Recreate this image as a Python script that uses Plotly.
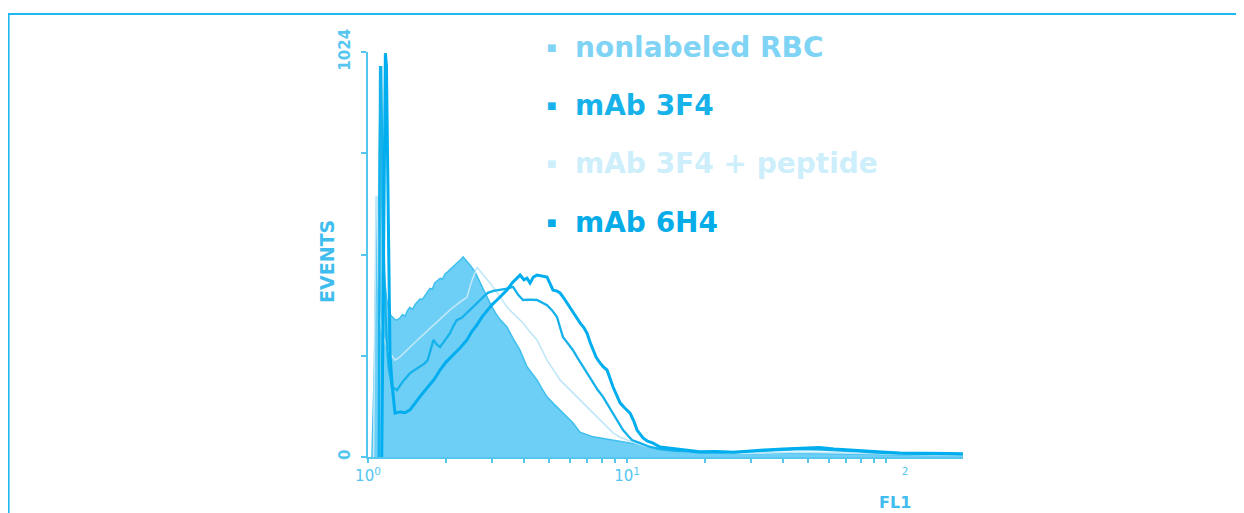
import plotly.graph_objects as go

# ---------------- data (FL1 intensity, event counts) ----------------
fl1_nonlabeled = [1.036, 1.06, 1.08, 1.095, 1.105, 1.113, 1.125, 1.14, 1.16, 1.18,
                  1.20, 1.22, 1.25, 1.27, 1.294, 1.33, 1.36, 1.39, 1.42, 1.45,
                  1.49, 1.52, 1.55, 1.59, 1.62, 1.66, 1.70, 1.735, 1.77, 1.81,
                  1.85, 1.90, 1.94, 1.98, 2.03, 2.07, 2.12, 2.17, 2.22, 2.27,
                  2.30, 2.33, 2.37, 2.41, 2.48, 2.59, 2.70, 2.83, 2.96, 3.10,
                  3.23, 3.44, 3.63, 3.86, 4.11, 4.30, 4.49, 4.70, 4.91, 5.2,
                  5.51, 5.85, 6.19, 6.58, 7.0, 7.39, 8.1, 8.83, 9.6, 10.55,
                  11.5, 12.6, 14.0, 16.0, 19.1, 24, 30, 38, 47, 60,
                  73, 90, 113, 140, 170, 198]
events_nonlabeled = [0, 250, 650, 560, 780, 910, 700, 540, 450, 400,
                     375, 360, 352, 348, 346, 352, 360, 356, 370, 378,
                     374, 386, 392, 400, 398, 410, 418, 426, 424, 440,
                     446, 452, 450, 462, 468, 473, 478, 486, 492, 498,
                     502, 506, 500, 495, 485, 468, 445, 415, 389, 365,
                     348, 329, 300, 270, 228, 212, 195, 172, 152, 135,
                     119, 102, 86, 63, 56, 51, 47, 43, 39, 35,
                     30, 23, 19, 15, 10, 9, 8, 10, 9, 8,
                     7, 7, 6, 6, 5, 5]

fl1_3f4 = [1.10, 1.108, 1.113, 1.125, 1.14, 1.16, 1.18, 1.20, 1.22, 1.238,
           1.294, 1.36, 1.453, 1.52, 1.588, 1.65, 1.70, 1.75, 1.79, 1.84,
           1.897, 1.98, 2.073, 2.13, 2.20, 2.30, 2.411, 2.52, 2.635, 2.76,
           2.90, 3.05, 3.234, 3.40, 3.63, 3.80, 3.967, 4.2, 4.492, 4.70,
           4.910, 5.15, 5.367, 5.50, 5.660, 5.90, 6.186, 6.45, 6.763, 7.05,
           7.391, 7.70, 8.078, 8.45, 8.830, 9.25, 9.652, 10.05, 10.45, 11.23,
           12.2, 13.4, 15, 17, 19.1, 23, 28, 33, 40, 47,
           56, 66, 78, 92, 110, 130, 155, 180, 198]
events_3f4 = [0, 700, 986, 986, 640, 420, 300, 230, 195, 177,
              169, 190, 212, 220, 228, 236, 245, 275, 296, 285,
              278, 295, 313, 330, 346, 352, 364, 376, 389, 402,
              415, 420, 422, 425, 430, 410, 397, 398, 397, 390,
              384, 370, 354, 330, 303, 288, 270, 250, 228, 208,
              187, 170, 152, 131, 111, 88, 68, 55, 43, 35,
              26, 20, 16, 14, 12, 11, 13, 16, 18, 20,
              19, 17, 14, 11, 9, 8, 8, 7, 7]

fl1_3f4_peptide = [1.05, 1.068, 1.074, 1.085, 1.095, 1.11, 1.13, 1.15, 1.18, 1.22,
                   1.271, 1.329, 1.40, 1.52, 1.65, 1.80, 1.95, 2.10, 2.25, 2.41,
                   2.50, 2.59, 2.635, 2.75, 2.958, 3.2, 3.441, 3.70, 3.967, 4.2,
                   4.492, 4.70, 4.91, 5.2, 5.512, 5.85, 6.186, 6.6, 7.008, 7.4,
                   7.866, 8.3, 8.83, 9.4, 10.0, 10.8, 11.7, 13, 15, 18,
                   22, 28, 35, 45, 58, 75, 95, 120, 150, 198]
events_3f4_peptide = [0, 500, 657, 657, 450, 360, 320, 300, 280, 262,
                      245, 253, 268, 290, 312, 335, 357, 375, 390, 404,
                      440, 470, 480, 465, 440, 410, 379, 358, 339, 318,
                      296, 270, 245, 220, 195, 178, 162, 144, 126, 110,
                      94, 78, 61, 50, 43, 35, 28, 22, 16, 12,
                      10, 9, 10, 12, 11, 9, 8, 7, 6, 5]

fl1_6h4 = [1.13, 1.15, 1.16, 1.167, 1.178, 1.19, 1.20, 1.216, 1.24, 1.271,
           1.33, 1.39, 1.453, 1.50, 1.55, 1.62, 1.70, 1.80, 1.897, 2.0,
           2.13, 2.27, 2.41, 2.52, 2.635, 2.76, 2.90, 3.02, 3.148, 3.30,
           3.441, 3.60, 3.75, 3.863, 4.0, 4.11, 4.222, 4.35, 4.492, 4.70,
           4.910, 5.05, 5.179, 5.35, 5.512, 5.70, 5.865, 6.02, 6.186, 6.40,
           6.584, 6.80, 7.008, 7.20, 7.391, 7.60, 7.866, 8.10, 8.371, 8.60,
           8.830, 9.10, 9.397, 9.80, 10.27, 10.60, 10.93, 11.23, 11.53, 12.0,
           12.60, 13.41, 14.5, 16.0, 17.5, 19.1, 22, 26, 30, 34,
           40, 47, 55, 63, 73, 85, 100, 113, 130, 150,
           175, 198]
events_6h4 = [0, 600, 1021, 1021, 990, 700, 480, 260, 180, 111,
              114, 112, 119, 132, 144, 160, 177, 196, 220, 240,
              258, 276, 296, 318, 334, 355, 372, 386, 397, 410,
              422, 440, 452, 460, 448, 452, 440, 455, 460, 458,
              455, 438, 422, 420, 415, 402, 389, 378, 364, 352,
              339, 328, 313, 290, 270, 252, 238, 228, 220, 196,
              177, 158, 137, 124, 111, 92, 68, 58, 48, 40,
              35, 25, 22, 18, 16, 13, 14, 12, 15, 18,
              20, 22, 24, 20, 18, 15, 12, 10, 10, 9,
              9, 8]

legend_labels = ["nonlabeled RBC", "mAb 3F4", "mAb 3F4 + peptide", "mAb 6H4"]
legend_colors = ["#7fd4f5", "#17b2ea", "#cdeefb", "#05ace8"]

x_tickvals = [1, 2, 3, 4, 5, 6, 7, 8, 9, 10, 20, 30, 40, 50, 60, 70, 80, 90, 100]
x_ticktext = ["10<sup>0</sup>"] + [" "] * 8 + ["10<sup>1</sup>"] + [" "] * 8 + \
             ["<span style='color:white'>1000</span><sup>2</sup>"]
y_tickvals = [0, 256, 512, 768, 1024]
y_ticktext = ["<b>0</b>", " ", " ", " ", "<b>1024</b>"]

assert len(fl1_nonlabeled) == len(events_nonlabeled)
assert len(fl1_3f4) == len(events_3f4)
assert len(fl1_3f4_peptide) == len(events_3f4_peptide)
assert len(fl1_6h4) == len(events_6h4)

AXIS = "#55c6f0"

fig = go.Figure()
fig.add_trace(go.Scatter(x=fl1_nonlabeled, y=events_nonlabeled, mode="lines",
                         fill="tozeroy", fillcolor="#6dcff6",
                         line=dict(color="#3fbfee", width=1.5),
                         name=legend_labels[0], showlegend=False))
fig.add_trace(go.Scatter(x=fl1_3f4_peptide, y=events_3f4_peptide, mode="lines",
                         line=dict(color="#bfe7f8", width=1.6),
                         name=legend_labels[2], showlegend=False))
fig.add_trace(go.Scatter(x=fl1_3f4, y=events_3f4, mode="lines",
                         line=dict(color="#14b1ea", width=2.3),
                         name=legend_labels[1], showlegend=False))
fig.add_trace(go.Scatter(x=fl1_6h4, y=events_6h4, mode="lines",
                         line=dict(color="#00adee", width=3),
                         name=legend_labels[3], showlegend=False))

fig.update_xaxes(type="log", range=[0, 2.297], showgrid=False, zeroline=False,
                 showline=True, linecolor=AXIS, linewidth=2,
                 ticks="outside", ticklen=4, tickwidth=1.5, tickcolor=AXIS,
                 tickvals=x_tickvals, ticktext=x_ticktext, tickangle=0,
                 tickfont=dict(family="DejaVu Sans", size=15, color=AXIS))
fig.update_yaxes(range=[0, 1024], showgrid=False, zeroline=False,
                 showline=True, linecolor=AXIS, linewidth=2,
                 ticks="outside", ticklen=5, tickwidth=1.5, tickcolor=AXIS,
                 tickvals=y_tickvals, ticktext=y_ticktext, tickangle=-90,
                 ticklabelstandoff=5,
                 tickfont=dict(family="DejaVu Sans", size=15, color=AXIS))

annotations = []
row_y = [1.012, 0.867, 0.7235, 0.578]
for lab, col, yy in zip(legend_labels, legend_colors, row_y):
    annotations.append(dict(xref="paper", yref="paper", x=0.3445, y=yy,
                            xanchor="left", yanchor="middle", showarrow=False,
                            text="<b>" + lab + "</b>",
                            font=dict(family="DejaVu Sans", size=28, color=col)))
    annotations.append(dict(xref="paper", yref="paper", x=0.309, y=yy,
                            xanchor="center", yanchor="middle", showarrow=False,
                            text="■", font=dict(family="DejaVu Sans", size=10, color=col)))
annotations.append(dict(xref="paper", yref="paper", x=-0.069, y=0.484,
                        xanchor="center", yanchor="middle", showarrow=False,
                        textangle=-90, text="<b>EVENTS</b>",
                        font=dict(family="DejaVu Sans", size=19, color="#3fbdee")))
annotations.append(dict(xref="paper", yref="paper", x=0.886, y=-0.112,
                        xanchor="center", yanchor="middle", showarrow=False,
                        text="<b>FL1</b>",
                        font=dict(family="DejaVu Sans", size=16, color="#3fbdee")))

# page body adds an 8px offset, so the figure is 8px smaller on each side
fig.update_layout(
    width=1236, height=505,
    margin=dict(l=360, r=281, t=44, b=56),
    paper_bgcolor="white", plot_bgcolor="white",
    annotations=annotations,
    shapes=[dict(type="rect", xref="paper", yref="paper",
                 x0=-0.604, x1=1.49, y0=-0.16, y1=1.0938,
                 line=dict(color="#1fb8ee", width=2), layer="below")],
    showlegend=False,
)

fig.write_html("out.html")
